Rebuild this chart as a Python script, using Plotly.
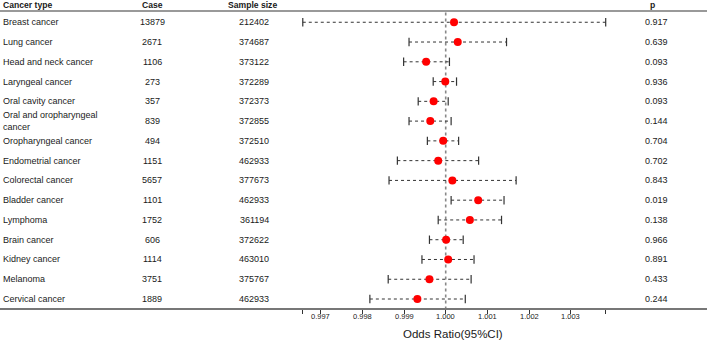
import plotly.graph_objects as go

cancer_types = ["Breast cancer", "Lung cancer", "Head and neck cancer", "Laryngeal cancer",
                "Oral cavity cancer", "Oral and oropharyngeal<br>cancer", "Oropharyngeal cancer",
                "Endometrial cancer", "Colorectal cancer", "Bladder cancer", "Lymphoma",
                "Brain cancer", "Kidney cancer", "Melanoma", "Cervical cancer"]
cases = ["13879", "2671", "1106", "273", "357", "839", "494", "1151", "5657", "1101",
         "1752", "606", "1114", "3751", "1889"]
sample_sizes = ["212402", "374687", "373122", "372289", "372373", "372855", "372510",
                "462933", "377673", "462933", "361194", "372622", "463010", "375767", "462933"]
or_vals = [1.00020, 1.00029, 0.99953, 0.99999, 0.99971, 0.99963, 0.99994, 0.99982,
           1.00016, 1.00078, 1.00058, 1.00001, 1.00006, 0.99961, 0.99932]
ci_low = [0.99657, 0.99912, 0.99899, 0.99970, 0.99934, 0.99912, 0.99956, 0.99884,
          0.99864, 1.00013, 0.99982, 0.99961, 0.99943, 0.99862, 0.99818]
ci_high = [1.00384, 1.00146, 1.00009, 1.00026, 1.00006, 1.00013, 1.00031, 1.00079,
           1.00169, 1.00140, 1.00134, 1.00042, 1.00068, 1.00061, 1.00047]
p_vals = ["0.917", "0.639", "0.093", "0.936", "0.093", "0.144", "0.704", "0.702",
          "0.843", "0.019", "0.138", "0.966", "0.891", "0.433", "0.244"]
tick_vals = [0.997, 0.998, 0.999, 1.000, 1.001, 1.002, 1.003]

W, H = 707, 341
PX0 = 445.7          # pixel of OR = 1
PXU = 41667.0        # pixels per unit OR
ROW0, ROWH = 22.3, 19.8
PLOT_H = 308.5

def xv(px):
    return 1 + (px - PX0) / PXU

def pap(py):
    return (PLOT_H - py) / PLOT_H

rows = list(range(len(cancer_types)))
FONT = "Liberation Sans, Arial, sans-serif"
TXT = "#1a1a1a"
LINE = "#333333"
FS = 9

fig = go.Figure()

# reference line at OR = 1
fig.add_trace(go.Scatter(x=[1, 1], y=[(12.5 - ROW0) / ROWH, (PLOT_H - ROW0) / ROWH], mode="lines",
                         line=dict(color="#888888", width=1.6, dash="dot"),
                         hoverinfo="skip", showlegend=False))

# CI lines
for i in rows:
    fig.add_trace(go.Scatter(x=[ci_low[i], ci_high[i]], y=[i, i], mode="lines",
                             line=dict(color=LINE, width=1, dash="dot"),
                             hoverinfo="skip", showlegend=False))
# caps
fig.add_trace(go.Scatter(x=ci_low + ci_high, y=rows + rows, mode="markers",
                         marker=dict(symbol="line-ns", size=6,
                                     line=dict(color=LINE, width=1.2)),
                         hoverinfo="skip", showlegend=False))
# points
fig.add_trace(go.Scatter(x=or_vals, y=rows, mode="markers",
                         marker=dict(color="#ff0000", size=8, line=dict(width=0)),
                         showlegend=False))

ann = []
def add_text(xpx, row, text, anchor, size=FS):
    ann.append(dict(x=xpx / W, xref="paper", y=row, yref="y", text=text,
                    showarrow=False, xanchor=anchor, yanchor="middle", align=anchor,
                    font=dict(family=FONT, size=size, color=TXT)))

hdr_row = (5.5 - ROW0) / ROWH
add_text(1, hdr_row, "<b>Cancer type</b>", "left", 8.6)
add_text(152, hdr_row, "<b>Case</b>", "center", 8.6)
add_text(253, hdr_row, "<b>Sample size</b>", "center", 8.6)
add_text(652, hdr_row, "<b>p</b>", "center", 8.6)
for i in rows:
    add_text(1, i, cancer_types[i], "left")
    add_text(152, i, cases[i], "center")
    add_text(254, i, sample_sizes[i], "center")
    add_text(656, i, p_vals[i], "center")

for v in tick_vals:
    ann.append(dict(x=v, xref="x", y=pap(317.5), yref="paper", text=f"{v:.3f}",
                    showarrow=False, xanchor="center", yanchor="middle",
                    font=dict(family=FONT, size=7.5, color=TXT)))

ann.append(dict(x=453 / W, xref="paper", y=pap(334.5), yref="paper", yanchor="middle",
                xanchor="center", text="Odds Ratio(95%CI)", showarrow=False,
                font=dict(family=FONT, size=11.5, color=TXT)))

shapes = [dict(type="line", xref="paper", yref="y", x0=0, x1=1,
               y0=(11 - ROW0) / ROWH, y1=(11 - ROW0) / ROWH,
               line=dict(color="#777777", width=1.6))]

fig.update_layout(
    width=W, height=H, margin=dict(l=0, r=0, t=0, b=H - PLOT_H),
    plot_bgcolor="white", paper_bgcolor="white",
    annotations=ann, shapes=shapes,
    xaxis=dict(range=[xv(0), xv(W)], showgrid=False, zeroline=False,
               showline=True, linecolor="#777777", linewidth=1.6,
               tickmode="array",
               tickvals=[ci_low[0]] + tick_vals + [ci_high[0]],
               showticklabels=False,
               ticks="outside", ticklen=4, tickcolor=LINE, tickwidth=1),
    yaxis=dict(range=[(PLOT_H - ROW0) / ROWH, (0 - ROW0) / ROWH], visible=False,
               showgrid=False, zeroline=False),
)

fig.write_html("out.html", config={"displayModeBar": False},
               post_script="document.body.style.margin='0';")
